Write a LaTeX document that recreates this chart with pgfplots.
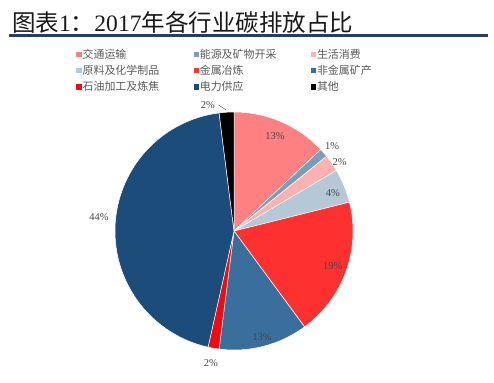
\documentclass[border=0pt]{standalone}
\usepackage{pgfplots}
\pgfplotsset{compat=1.18}
\usepackage{fontspec}
\setmainfont{Liberation Serif}
\newfontfamily\cjk{Noto Sans CJK SC}
\definecolor{c1}{RGB}{255,128,128}
\definecolor{c2}{RGB}{122,158,186}
\definecolor{c3}{RGB}{255,176,176}
\definecolor{c4}{RGB}{180,200,216}
\definecolor{c5}{RGB}{255,48,48}
\definecolor{c6}{RGB}{58,110,156}
\definecolor{c7}{RGB}{240,10,20}
\definecolor{c8}{RGB}{28,76,122}
\definecolor{c9}{RGB}{0,0,0}
\definecolor{navy}{RGB}{40,60,100}
\definecolor{lbl}{RGB}{70,70,70}
\definecolor{legtxt}{RGB}{90,90,90}
% shares (percent), clockwise from top
\def\pA{13.0}\def\pB{1.2}\def\pC{2.3}\def\pD{4.6}\def\pE{18.8}
\def\pF{12.1}\def\pG{1.5}\def\pH{44.5}\def\pI{2.0}
\begin{document}
\begin{tikzpicture}[x=1bp,y=1bp]
\useasboundingbox (0,0) rectangle (494,-382);
\fill[white] (0,0) rectangle (494,-382);
\node[anchor=west, inner sep=0pt, text=black!90] at (12,-23)
  {\fontsize{23.6}{26}\selectfont{\cjk 图表}1{\cjk ：}2017{\cjk 年各行业碳排放占比}};
\draw[line width=2.2bp, color=navy] (9,-35.5) -- (488,-35.5);
% cumulative angles
\pgfmathsetmacro\aO{90}
\pgfmathsetmacro\aA{\aO-3.6*\pA}
\pgfmathsetmacro\aB{\aA-3.6*\pB}
\pgfmathsetmacro\aC{\aB-3.6*\pC}
\pgfmathsetmacro\aD{\aC-3.6*\pD}
\pgfmathsetmacro\aE{\aD-3.6*\pE}
\pgfmathsetmacro\aF{\aE-3.6*\pF}
\pgfmathsetmacro\aG{\aF-3.6*\pG}
\pgfmathsetmacro\aH{\aG-3.6*\pH}
\pgfmathsetmacro\aI{\aH-3.6*\pI}
\begin{axis}[at={(91.2bp,-373.8bp)}, anchor=south west, scale only axis,
  width=285.6bp, height=285.6bp,
  xmin=-1.2, xmax=1.2, ymin=-1.2, ymax=1.2, hide axis,
  clip=false,
  legend columns=3,
  legend image code/.code={\fill[#1, draw=none] (0bp,-2.6bp) rectangle (5.2bp,2.6bp);},
  legend style={draw=none, fill=none, inner sep=0pt,
    at={(rel axis cs:-0.0525,1.141)}, anchor=north west,
    font=\fontsize{11}{12}\selectfont\cjk, text=legtxt,
    row sep=3.4bp, column sep=0pt,
    nodes={inner xsep=1bp, inner ysep=1bp}},
]
\addlegendimage{fill=c1}\addlegendentry{\makebox[110bp][l]{交通运输}}
\addlegendimage{fill=c2}\addlegendentry{\makebox[110bp][l]{能源及矿物开采}}
\addlegendimage{fill=c3}\addlegendentry{\makebox[110bp][l]{生活消费}}
\addlegendimage{fill=c4}\addlegendentry{\makebox[110bp][l]{原料及化学制品}}
\addlegendimage{fill=c5}\addlegendentry{\makebox[110bp][l]{金属冶炼}}
\addlegendimage{fill=c6}\addlegendentry{\makebox[110bp][l]{非金属矿产}}
\addlegendimage{fill=c7}\addlegendentry{\makebox[110bp][l]{石油加工及炼焦}}
\addlegendimage{fill=c8}\addlegendentry{\makebox[110bp][l]{电力供应}}
\addlegendimage{fill=c9}\addlegendentry{\makebox[110bp][l]{其他}}
\tikzset{sl/.style={fill=#1, draw=white, line width=0.5bp}}
\filldraw[sl=c1] (axis cs:0,0) -- (axis cs:{cos(\aO)},{sin(\aO)}) arc[start angle=\aO, end angle=\aA, radius=1] -- cycle;
\filldraw[sl=c2] (axis cs:0,0) -- (axis cs:{cos(\aA)},{sin(\aA)}) arc[start angle=\aA, end angle=\aB, radius=1] -- cycle;
\filldraw[sl=c3] (axis cs:0,0) -- (axis cs:{cos(\aB)},{sin(\aB)}) arc[start angle=\aB, end angle=\aC, radius=1] -- cycle;
\filldraw[sl=c4] (axis cs:0,0) -- (axis cs:{cos(\aC)},{sin(\aC)}) arc[start angle=\aC, end angle=\aD, radius=1] -- cycle;
\filldraw[sl=c5] (axis cs:0,0) -- (axis cs:{cos(\aD)},{sin(\aD)}) arc[start angle=\aD, end angle=\aE, radius=1] -- cycle;
\filldraw[sl=c6] (axis cs:0,0) -- (axis cs:{cos(\aE)},{sin(\aE)}) arc[start angle=\aE, end angle=\aF, radius=1] -- cycle;
\filldraw[sl=c7] (axis cs:0,0) -- (axis cs:{cos(\aF)},{sin(\aF)}) arc[start angle=\aF, end angle=\aG, radius=1] -- cycle;
\filldraw[sl=c8] (axis cs:0,0) -- (axis cs:{cos(\aG)},{sin(\aG)}) arc[start angle=\aG, end angle=\aH, radius=1] -- cycle;
\filldraw[sl=c9] (axis cs:0,0) -- (axis cs:{cos(\aH)},{sin(\aH)}) arc[start angle=\aH, end angle=\aI, radius=1] -- cycle;
\tikzset{pl/.style={font=\fontsize{10.5}{12}\selectfont, text=lbl, inner sep=0pt}}
\node[pl] at (axis cs:{0.87*cos(66.7)},{0.87*sin(66.7)}) {13\%};
\node[pl] at (axis cs:{1.09*cos(40.9)},{1.09*sin(40.9)}) {1\%};
\node[pl] at (axis cs:{1.06*cos(33.1)},{1.06*sin(33.1)}) {2\%};
\node[pl] at (axis cs:{0.89*cos(21)},{0.89*sin(21)}) {4\%};
\node[pl] at (axis cs:{0.88*cos(-19.5)},{0.88*sin(-19.5)}) {19\%};
\node[pl] at (axis cs:{0.92*cos(-75.2)},{0.92*sin(-75.2)}) {13\%};
\node[pl] at (axis cs:{1.13*cos(-99.9)},{1.13*sin(-99.9)}) {2\%};
\node[pl] at (axis cs:{1.14*cos(174)},{1.14*sin(174)}) {44\%};
\node[pl] at (axis cs:{1.08*cos(101.7)},{1.08*sin(101.7)}) {2\%};
\draw[lbl, line width=0.4bp] (axis cs:-0.13,1.06) -- (axis cs:-0.07,1.02);
\end{axis}
\end{tikzpicture}
\end{document}
